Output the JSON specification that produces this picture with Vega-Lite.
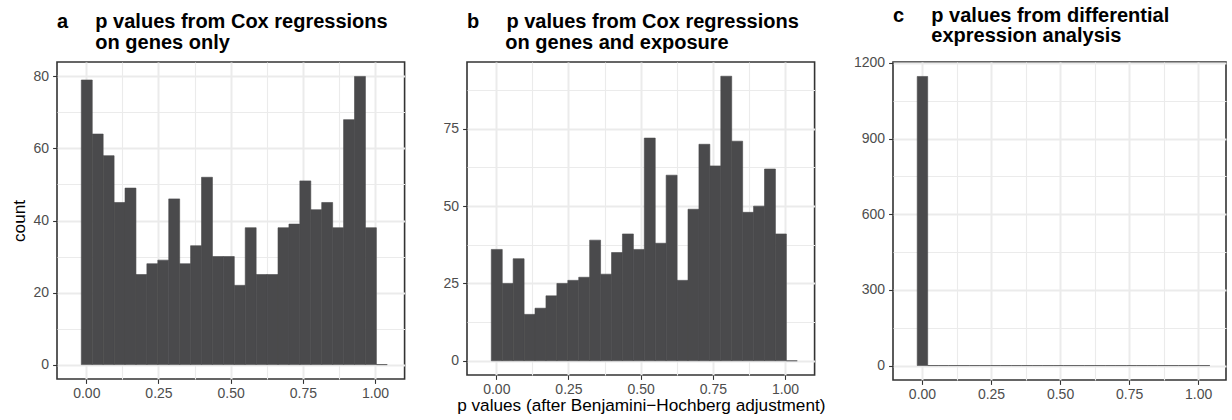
{
  "$schema": "https://vega.github.io/schema/vega-lite/v6.json",
  "padding": {"left": 9, "top": 5, "right": 0, "bottom": 0},
  "background": "white",
  "datasets": {
    "a": [
      {"x0": -0.0173, "x1": 0.0206, "count": 79},
      {"x0": 0.0206, "x1": 0.0584, "count": 64},
      {"x0": 0.0584, "x1": 0.0963, "count": 58},
      {"x0": 0.0963, "x1": 0.1341, "count": 45},
      {"x0": 0.1341, "x1": 0.1720, "count": 49},
      {"x0": 0.1720, "x1": 0.2098, "count": 25},
      {"x0": 0.2098, "x1": 0.2477, "count": 28},
      {"x0": 0.2477, "x1": 0.2855, "count": 29},
      {"x0": 0.2855, "x1": 0.3234, "count": 46},
      {"x0": 0.3234, "x1": 0.3612, "count": 28},
      {"x0": 0.3612, "x1": 0.3991, "count": 33},
      {"x0": 0.3991, "x1": 0.4369, "count": 52},
      {"x0": 0.4369, "x1": 0.4748, "count": 30},
      {"x0": 0.4748, "x1": 0.5126, "count": 30},
      {"x0": 0.5126, "x1": 0.5505, "count": 22},
      {"x0": 0.5505, "x1": 0.5883, "count": 38},
      {"x0": 0.5883, "x1": 0.6262, "count": 25},
      {"x0": 0.6262, "x1": 0.6640, "count": 25},
      {"x0": 0.6640, "x1": 0.7019, "count": 38},
      {"x0": 0.7019, "x1": 0.7397, "count": 39},
      {"x0": 0.7397, "x1": 0.7776, "count": 51},
      {"x0": 0.7776, "x1": 0.8154, "count": 43},
      {"x0": 0.8154, "x1": 0.8533, "count": 45},
      {"x0": 0.8533, "x1": 0.8911, "count": 38},
      {"x0": 0.8911, "x1": 0.9290, "count": 68},
      {"x0": 0.9290, "x1": 0.9668, "count": 80},
      {"x0": 0.9668, "x1": 1.0047, "count": 38},
      {"x0": 1.0047, "x1": 1.0425, "count": 0}
    ],
    "b": [
      {"x0": -0.0173, "x1": 0.0206, "count": 36},
      {"x0": 0.0206, "x1": 0.0584, "count": 25},
      {"x0": 0.0584, "x1": 0.0963, "count": 33},
      {"x0": 0.0963, "x1": 0.1341, "count": 15},
      {"x0": 0.1341, "x1": 0.1720, "count": 17},
      {"x0": 0.1720, "x1": 0.2098, "count": 21},
      {"x0": 0.2098, "x1": 0.2477, "count": 25},
      {"x0": 0.2477, "x1": 0.2855, "count": 26},
      {"x0": 0.2855, "x1": 0.3234, "count": 27},
      {"x0": 0.3234, "x1": 0.3612, "count": 39},
      {"x0": 0.3612, "x1": 0.3991, "count": 28},
      {"x0": 0.3991, "x1": 0.4369, "count": 35},
      {"x0": 0.4369, "x1": 0.4748, "count": 41},
      {"x0": 0.4748, "x1": 0.5126, "count": 36},
      {"x0": 0.5126, "x1": 0.5505, "count": 72},
      {"x0": 0.5505, "x1": 0.5883, "count": 38},
      {"x0": 0.5883, "x1": 0.6262, "count": 60},
      {"x0": 0.6262, "x1": 0.6640, "count": 26},
      {"x0": 0.6640, "x1": 0.7019, "count": 49},
      {"x0": 0.7019, "x1": 0.7397, "count": 70},
      {"x0": 0.7397, "x1": 0.7776, "count": 63},
      {"x0": 0.7776, "x1": 0.8154, "count": 92},
      {"x0": 0.8154, "x1": 0.8533, "count": 71},
      {"x0": 0.8533, "x1": 0.8911, "count": 48},
      {"x0": 0.8911, "x1": 0.9290, "count": 50},
      {"x0": 0.9290, "x1": 0.9668, "count": 62},
      {"x0": 0.9668, "x1": 1.0047, "count": 41},
      {"x0": 1.0047, "x1": 1.0425, "count": 0}
    ],
    "c": [
      {"x0": -0.0173, "x1": 0.0206, "count": 1146},
      {"x0": 0.0206, "x1": 0.0584, "count": 0},
      {"x0": 0.0584, "x1": 0.0963, "count": 0},
      {"x0": 0.0963, "x1": 0.1341, "count": 0},
      {"x0": 0.1341, "x1": 0.1720, "count": 0},
      {"x0": 0.1720, "x1": 0.2098, "count": 0},
      {"x0": 0.2098, "x1": 0.2477, "count": 0},
      {"x0": 0.2477, "x1": 0.2855, "count": 0},
      {"x0": 0.2855, "x1": 0.3234, "count": 0},
      {"x0": 0.3234, "x1": 0.3612, "count": 0},
      {"x0": 0.3612, "x1": 0.3991, "count": 0},
      {"x0": 0.3991, "x1": 0.4369, "count": 0},
      {"x0": 0.4369, "x1": 0.4748, "count": 0},
      {"x0": 0.4748, "x1": 0.5126, "count": 0},
      {"x0": 0.5126, "x1": 0.5505, "count": 0},
      {"x0": 0.5505, "x1": 0.5883, "count": 0},
      {"x0": 0.5883, "x1": 0.6262, "count": 0},
      {"x0": 0.6262, "x1": 0.6640, "count": 0},
      {"x0": 0.6640, "x1": 0.7019, "count": 0},
      {"x0": 0.7019, "x1": 0.7397, "count": 0},
      {"x0": 0.7397, "x1": 0.7776, "count": 0},
      {"x0": 0.7776, "x1": 0.8154, "count": 0},
      {"x0": 0.8154, "x1": 0.8533, "count": 0},
      {"x0": 0.8533, "x1": 0.8911, "count": 0},
      {"x0": 0.8911, "x1": 0.9290, "count": 0},
      {"x0": 0.9290, "x1": 0.9668, "count": 0},
      {"x0": 0.9668, "x1": 1.0047, "count": 0},
      {"x0": 1.0047, "x1": 1.0425, "count": 0}
    ]
  },
  "spacing": 20,
  "bounds": "full",
  "hconcat": [
    {
      "width": 347.6,
      "height": 317,
      "title": {"text": ["a\u2003\u00a0\u200ap values from Cox regressions", "\u200b\u2007\u2003\u00a0\u200aon genes only"]},
      "data": {"name": "a"},
      "layer": [
        {
          "mark": {"type": "bar", "opacity": 0},
          "encoding": {
            "x": {"field": "x0", "type": "quantitative", "scale": {"domain": [-0.1015, 1.1025], "nice": false, "zero": false},
                  "axis": {"orient": "top", "values": [0.125, 0.375, 0.625, 0.875], "grid": true, "gridWidth": 1.1, "labels": false, "ticks": false, "domain": false, "title": null}},
            "x2": {"field": "x1"},
            "y": {"field": "count", "type": "quantitative", "scale": {"domain": [-4, 84], "nice": false, "zero": false},
                  "axis": {"orient": "right", "values": [10, 30, 50, 70], "grid": true, "gridWidth": 1.1, "labels": false, "ticks": false, "domain": false, "title": null}},
            "y2": {"datum": 0}
          }
        },
        {
          "mark": {"type": "bar", "fill": "#4A4A4C", "stroke": "#4A4A4C", "strokeWidth": 0.6},
          "encoding": {
            "x": {"field": "x0", "type": "quantitative",
                  "axis": {"orient": "bottom", "values": [0, 0.25, 0.5, 0.75, 1], "format": ".2f", "grid": true, "gridWidth": 2, "labelFlush": false, "title": null}},
            "x2": {"field": "x1"},
            "y": {"field": "count", "type": "quantitative",
                  "axis": {"orient": "left", "values": [0, 20, 40, 60, 80], "format": "d", "grid": true, "gridWidth": 2, "labelPadding": 4, "title": "count", "titlePadding": 3.7, "minExtent": 24.7, "maxExtent": 24.7}},
            "y2": {"datum": 0}
          }
        }
      ],
      "resolve": {"axis": {"x": "independent", "y": "independent"}}
    },
    {
      "width": 347.6,
      "height": 313,
      "title": {"text": ["b\u2003\u00a0\u200ap values from Cox regressions", "\u200b\u2007\u2003\u00a0\u200aon genes and exposure"]},
      "data": {"name": "b"},
      "layer": [
        {
          "mark": {"type": "bar", "opacity": 0},
          "encoding": {
            "x": {"field": "x0", "type": "quantitative", "scale": {"domain": [-0.1015, 1.1025], "nice": false, "zero": false},
                  "axis": {"orient": "top", "values": [0.125, 0.375, 0.625, 0.875], "grid": true, "gridWidth": 1.1, "labels": false, "ticks": false, "domain": false, "title": null}},
            "x2": {"field": "x1"},
            "y": {"field": "count", "type": "quantitative", "scale": {"domain": [-4.6, 96.6], "nice": false, "zero": false},
                  "axis": {"orient": "right", "values": [12.5, 37.5, 62.5, 87.5], "grid": true, "gridWidth": 1.1, "labels": false, "ticks": false, "domain": false, "title": null}},
            "y2": {"datum": 0}
          }
        },
        {
          "mark": {"type": "bar", "fill": "#4A4A4C", "stroke": "#4A4A4C", "strokeWidth": 0.6},
          "encoding": {
            "x": {"field": "x0", "type": "quantitative",
                  "axis": {"orient": "bottom", "values": [0, 0.25, 0.5, 0.75, 1], "format": ".2f", "grid": true, "gridWidth": 2, "labelFlush": false, "title": "p values (after Benjamini\u2212Hochberg adjustment)", "titlePadding": 0}},
            "x2": {"field": "x1"},
            "y": {"field": "count", "type": "quantitative",
                  "axis": {"orient": "left", "values": [0, 25, 50, 75], "format": "d", "grid": true, "gridWidth": 2, "labelPadding": 4, "title": null, "minExtent": 39.3, "maxExtent": 39.3}},
            "y2": {"datum": 0}
          }
        }
      ],
      "resolve": {"axis": {"x": "independent", "y": "independent"}}
    },
    {
      "width": 333,
      "height": 318,
      "title": {"text": ["c\u2003\u00a0\u200ap values from differential", "\u200b\u2007\u2003\u00a0\u200aexpression analysis"]},
      "data": {"name": "c"},
      "layer": [
        {
          "mark": {"type": "bar", "opacity": 0},
          "encoding": {
            "x": {"field": "x0", "type": "quantitative", "scale": {"domain": [-0.105, 1.101], "nice": false, "zero": false},
                  "axis": {"orient": "top", "values": [0.125, 0.375, 0.625, 0.875], "grid": true, "gridWidth": 1.1, "labels": false, "ticks": false, "domain": false, "title": null}},
            "x2": {"field": "x1"},
            "y": {"field": "count", "type": "quantitative", "scale": {"domain": [-57.3, 1203.3], "nice": false, "zero": false},
                  "axis": {"orient": "right", "values": [150, 450, 750, 1050], "grid": true, "gridWidth": 1.1, "labels": false, "ticks": false, "domain": false, "title": null}},
            "y2": {"datum": 0}
          }
        },
        {
          "mark": {"type": "bar", "fill": "#4A4A4C", "stroke": "#4A4A4C", "strokeWidth": 0.6},
          "encoding": {
            "x": {"field": "x0", "type": "quantitative",
                  "axis": {"orient": "bottom", "values": [0, 0.25, 0.5, 0.75, 1], "format": ".2f", "grid": true, "gridWidth": 2, "labelFlush": false, "title": null}},
            "x2": {"field": "x1"},
            "y": {"field": "count", "type": "quantitative",
                  "axis": {"orient": "left", "values": [0, 300, 600, 900, 1200], "format": "d", "grid": true, "gridWidth": 2, "labelPadding": 4, "title": null, "minExtent": 46, "maxExtent": 46}},
            "y2": {"datum": 0}
          }
        }
      ],
      "resolve": {"axis": {"x": "independent", "y": "independent"}}
    }
  ],
  "config": {
    "font": "Liberation Sans",
    "view": {"stroke": "#333333", "strokeWidth": 1.6},
    "axis": {
      "domain": false,
      "gridColor": "#EBEBEB",
      "tickColor": "#333333",
      "tickSize": 4.4,
      "tickWidth": 1.1,
      "labelColor": "#4D4D4D",
      "labelFont": "Liberation Sans",
      "labelFontSize": 14,
      "labelPadding": 3,
      "titleFont": "Liberation Sans",
      "titleFontSize": 17.2,
      "titleFontWeight": "normal",
      "titleColor": "#000000"
    },
    "title": {
      "anchor": "start",
      "frame": "group",
      "font": "Liberation Sans",
      "fontSize": 20,
      "fontWeight": "bold",
      "color": "#000000",
      "lineHeight": 20.5,
      "baseline": "alphabetic",
      "offset": 9.5
    }
  }
}
